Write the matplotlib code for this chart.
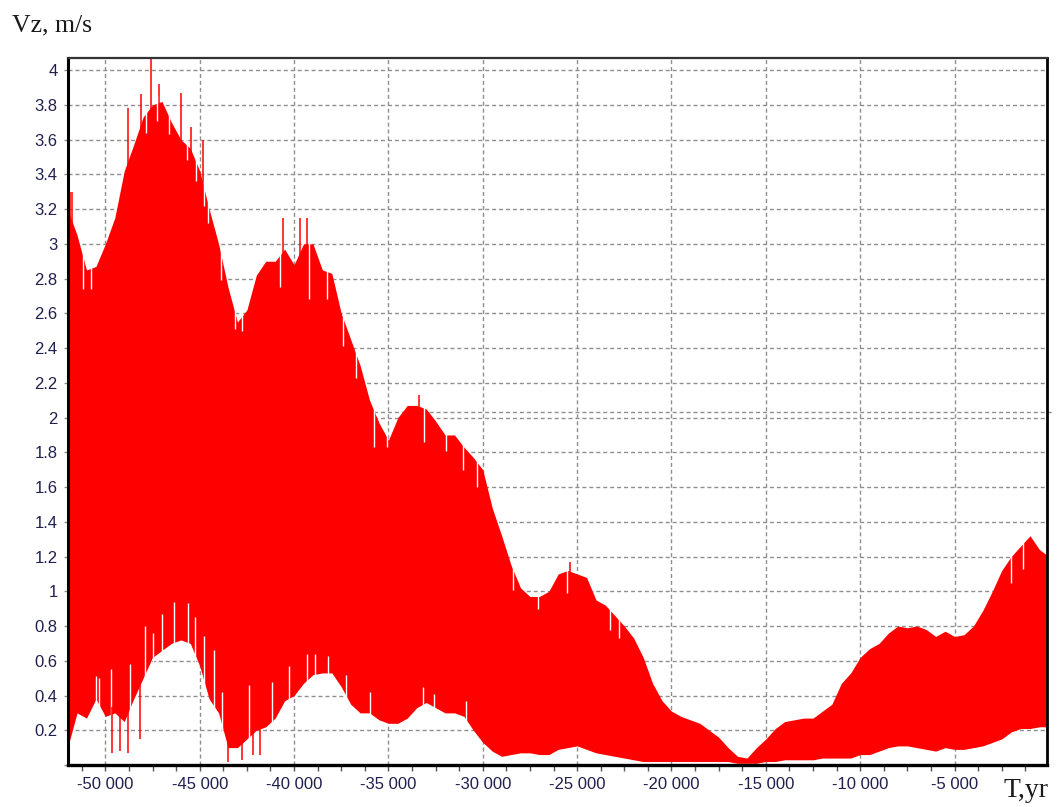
import matplotlib
matplotlib.use("Agg")
import matplotlib.pyplot as plt
import numpy as np
from matplotlib.ticker import FuncFormatter, MultipleLocator

# sample times, every 500 years from -52000 to 0
years = np.arange(-52000, 1, 500)

# upper edge of the oscillation, m/s
vz_upper = [3.20, 3.05, 2.85, 2.87, 3.00, 3.15, 3.42, 3.57, 3.73, 3.80,
            3.82, 3.70, 3.60, 3.55, 3.42, 3.20, 3.00, 2.75, 2.55, 2.62,
            2.82, 2.90, 2.90, 2.97, 2.88, 3.00, 3.00, 2.85, 2.83, 2.60,
            2.45, 2.30, 2.10, 1.97, 1.87, 2.00, 2.07, 2.07, 2.05, 1.98,
            1.90, 1.90, 1.83, 1.77, 1.70, 1.48, 1.32, 1.15, 1.02, 0.97,
            0.97, 1.00, 1.10, 1.12, 1.10, 1.08, 0.95, 0.92, 0.86, 0.80,
            0.73, 0.62, 0.47, 0.37, 0.31, 0.28, 0.26, 0.24, 0.20, 0.16,
            0.10, 0.05, 0.04, 0.10, 0.15, 0.21, 0.25, 0.26, 0.27, 0.27,
            0.31, 0.35, 0.47, 0.53, 0.62, 0.67, 0.70, 0.76, 0.80, 0.79,
            0.80, 0.78, 0.74, 0.77, 0.74, 0.75, 0.80, 0.89, 1.00, 1.12,
            1.20, 1.26, 1.32, 1.24, 1.20]

# lower edge of the oscillation, m/s
vz_lower = [0.10, 0.30, 0.27, 0.38, 0.28, 0.30, 0.25, 0.38, 0.50, 0.62,
            0.66, 0.70, 0.72, 0.70, 0.57, 0.38, 0.30, 0.10, 0.10, 0.15,
            0.20, 0.22, 0.27, 0.37, 0.40, 0.47, 0.52, 0.53, 0.53, 0.45,
            0.35, 0.30, 0.30, 0.26, 0.24, 0.24, 0.27, 0.33, 0.36, 0.33,
            0.30, 0.30, 0.28, 0.20, 0.13, 0.08, 0.05, 0.06, 0.07, 0.07,
            0.06, 0.06, 0.09, 0.10, 0.11, 0.09, 0.07, 0.06, 0.05, 0.04,
            0.03, 0.02, 0.02, 0.02, 0.02, 0.02, 0.02, 0.02, 0.02, 0.02,
            0.02, 0.01, 0.01, 0.01, 0.02, 0.02, 0.03, 0.03, 0.03, 0.03,
            0.04, 0.04, 0.04, 0.04, 0.06, 0.06, 0.08, 0.10, 0.11, 0.11,
            0.10, 0.09, 0.08, 0.10, 0.09, 0.09, 0.10, 0.11, 0.13, 0.15,
            0.19, 0.21, 0.21, 0.22, 0.22]

# single swings reaching above the upper edge
peak_years = [-51900, -51750, -48800, -48100, -47600, -47150, -46000,
              -45450, -44800, -40600, -39700, -39300, -33400, -25400]
peak_vz = [3.30, 3.30, 3.78, 3.86, 4.07, 3.92, 3.87,
           3.67, 3.60, 3.15, 3.15, 3.15, 2.13, 1.17]

# single swings falling short of the upper edge
notch_years = [-51200, -50750, -47850, -47250, -46630, -45700, -45200,
               -44780, -44550, -43850, -43150, -42750, -40750, -39200,
               -38250, -37400, -36700, -35750, -35100, -33100, -31950,
               -31050, -30300, -28400, -27050, -25550, -23250, -22800,
               -2000, -1350]
notch_vz = [2.74, 2.74, 3.64, 3.71, 3.63, 3.48, 3.36,
            3.22, 3.12, 2.79, 2.51, 2.50, 2.75, 2.68,
            2.68, 2.41, 2.23, 1.83, 1.83, 1.86, 1.81,
            1.70, 1.60, 1.01, 0.90, 0.99, 0.78, 0.73,
            1.05, 1.13]

# minima that stay high (white tips poking up into the band)
tip_years = [-50500, -50350, -49700, -48700, -47900, -47450, -47000,
             -46370, -45600, -45250, -44770, -44250, -43800, -42400,
             -41170, -40250, -39300, -38900, -38200, -37250, -36000,
             -33150, -32600, -30900]
tip_vz = [0.51, 0.50, 0.55, 0.58, 0.80, 0.76, 0.87,
          0.94, 0.93, 0.85, 0.74, 0.66, 0.42, 0.46,
          0.48, 0.57, 0.64, 0.64, 0.63, 0.52, 0.42,
          0.45, 0.41, 0.37]

# minima that drop well below the lower edge
dip_years = [-51950, -49650, -49200, -48800, -48150, -43500, -42750,
             -42200, -41800]
dip_vz = [0.02, 0.07, 0.08, 0.07, 0.15, 0.02, 0.03, 0.06, 0.06]

# extra reference level drawn across the plot
ref_level = 2.035

ink = '#202050'
grid_col = '#8f8f8f'
red = '#ff0000'

fig = plt.figure(figsize=(10.61, 8.07), dpi=100)
ax = fig.add_axes([68 / 1061, 1 - 765 / 807, (1047 - 68) / 1061, (765 - 58) / 807])

ax.fill_between(years, vz_lower, vz_upper, color=red, lw=0, zorder=2)

# base of each single swing sits on the band edge
up_at_peak = np.interp(peak_years, years, vz_upper)
up_at_notch = np.interp(notch_years, years, vz_upper)
lo_at_tip = np.interp(tip_years, years, vz_lower)
lo_at_dip = np.interp(dip_years, years, vz_lower)

ax.vlines(peak_years, up_at_peak - 0.05, peak_vz, color=red, lw=1.1, zorder=2.5)
ax.vlines(notch_years, notch_vz, up_at_notch + 0.04, color='white', lw=1.0, zorder=3)
ax.vlines(tip_years, lo_at_tip - 0.04, tip_vz, color='white', lw=1.0, zorder=3)
ax.vlines(dip_years, dip_vz, lo_at_dip + 0.04, color=red, lw=1.1, zorder=3.5)

ax.plot([-52000, 230], [ref_level, ref_level], color=grid_col, lw=1.0,
        ls=(0, (2.9, 2.1)), clip_on=False, zorder=1)

ax.set_xlim(-51980, -100)
ax.set_ylim(0.0, 4.07)

ax.xaxis.set_major_locator(MultipleLocator(5000))
ax.xaxis.set_minor_locator(MultipleLocator(1250))
ax.yaxis.set_major_locator(MultipleLocator(0.2))
ax.xaxis.set_major_formatter(FuncFormatter(lambda v, p: f"{int(round(v)):,}".replace(',', ' ')))
ax.yaxis.set_major_formatter(FuncFormatter(lambda v, p: '' if v < 0.1 else f"{v:g}"))

ax.set_axisbelow(True)
ax.grid(True, which='major', color=grid_col, lw=1.0, ls=(0, (2.9, 2.1)))

for lab in ax.get_xticklabels() + ax.get_yticklabels():
    lab.set_family('Liberation Sans')
ax.tick_params(axis='both', which='major', labelsize=12, labelcolor=ink)
ax.tick_params(axis='x', which='both', direction='out', length=4.5, width=1, color='#555555', pad=4)
ax.tick_params(axis='y', direction='out', length=3, width=1, color=grid_col, pad=4.5)

for side, w, c in [('left', 2.2, 'black'), ('bottom', 2.4, 'black'),
                   ('top', 1.6, '#333333'), ('right', 2.0, 'black')]:
    ax.spines[side].set_linewidth(w)
    ax.spines[side].set_color(c)
    ax.spines[side].set_zorder(5)

fig.text(12 / 1061, 1 - 31 / 807, 'Vz, m/s', family='Liberation Serif', fontsize=18.5,
         color='#1a1a1a', va='baseline', ha='left')
fig.text(1004 / 1061, 1 - 797 / 807, 'T,yr', family='Liberation Serif', fontsize=20,
         color='#1a1a1a', va='baseline', ha='left')

fig.savefig('out.png', dpi=100)
